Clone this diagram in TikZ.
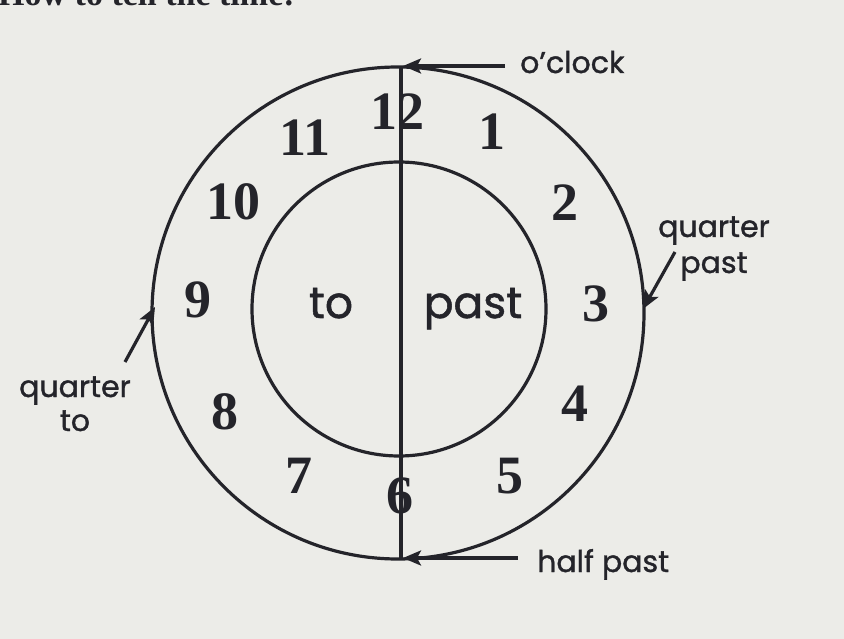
\documentclass[tikz,border=0pt]{standalone}
\usepackage{fontspec}
\setmainfont{Liberation Serif}
\newfontfamily\labelfont[FakeBold=1.2]{Poppins}
\usetikzlibrary{arrows.meta}
\definecolor{paper}{RGB}{236,236,232}
\definecolor{ink}{RGB}{36,36,42}
\tikzset{
  num/.style={font=\bfseries\fontsize{54}{54}\selectfont, text=ink, inner sep=0pt},
  lab/.style={font=\labelfont\fontsize{30}{30}\selectfont, text=ink, inner sep=0pt, anchor=base},
  big/.style={font=\labelfont\fontsize{44}{44}\selectfont, text=ink, inner sep=0pt, anchor=base},
  ring/.style={draw=ink, line width=3.2pt},
  pointer/.style={draw=ink, line width=3.2pt, -{Stealth[length=18pt,width=15pt,inset=4pt]}},
}
\begin{document}
\begin{tikzpicture}[x=1pt,y=-1pt]
\fill[paper] (0,0) rectangle (844,639);
\useasboundingbox (0,0) rectangle (844,639);
\clip (0,0) rectangle (844,639);
% cut-off heading (only its lower edge shows in the reference)
\node[anchor=base west, inner sep=0pt, text=ink, font=\bfseries\fontsize{34}{34}\selectfont] (head) at (-2,6) {How to tell the time:};
% dial
\coordinate (c) at (398,313);
\coordinate (ci) at (399,309);
\draw[ring] (c) circle[radius=246];
\draw[ring] (ci) circle[radius=147];
\coordinate (top) at (401,66);
\coordinate (bot) at (401,560);
\draw[ring] (top) -- (bot);
% numbers
\node[num] (n12) at (397,112) {12};
\node[num] (n1) at (492,132) {1};
\node[num] (n2) at (565,203) {2};
\node[num] (n3) at (596,304) {3};
\node[num] (n4) at (575,404) {4};
\node[num] (n5) at (510,476) {5};
\node[num] (n6) at (400,496) {6};
\node[num] (n7) at (299,476) {7};
\node[num] (n8) at (225,412) {8};
\node[num] (n9) at (198,300) {9};
\node[num] (n10) at (233,202) {10};
\node[num] (n11) at (305,138) {11};
% inner labels
\node[big] (to) at (331,318) {to};
\node[big] (past) at (473,318) {past};
% outer labels
\node[lab, anchor=base west] (oclock) at (520,73) {o’clock};
\node[lab] (qp1) at (714,237) {quarter};
\node[lab] (qp2) at (714,273) {past};
\node[lab] (qt1) at (75,397) {quarter};
\node[lab] (qt2) at (75,431) {to};
\node[lab, anchor=base west] (hp) at (537,572) {half past};
% pointers
\coordinate (oa) at (505,66);
\coordinate (ot) at (403,66);
\draw[pointer] (oa) -- (ot);
\coordinate (qpa) at (675,252);
\coordinate (qpt) at (643,309);
\draw[pointer] (qpa) -- (qpt);
\coordinate (qta) at (125,362);
\coordinate (qtt) at (155,307);
\draw[pointer] (qta) -- (qtt);
\coordinate (ha) at (518,558);
\coordinate (ht) at (403,558);
\draw[pointer] (ha) -- (ht);
\end{tikzpicture}
\end{document}
